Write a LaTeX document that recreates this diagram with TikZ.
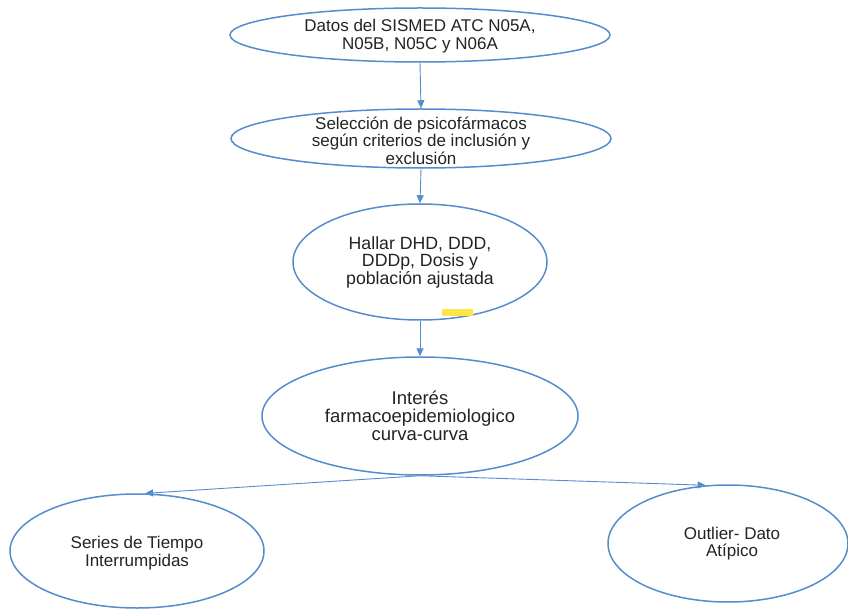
\documentclass[tikz,border=0pt]{standalone}
\usepackage{fontspec}
\setmainfont{Liberation Sans}
\usetikzlibrary{shapes.geometric,arrows.meta}
\definecolor{eblue}{RGB}{86,140,205}
\definecolor{txtc}{RGB}{35,35,35}
\definecolor{hlyellow}{RGB}{255,228,70}
\tikzset{
  ell/.style={ellipse, draw=eblue, line width=1.5pt, inner sep=0pt},
  txt/.style={align=center, text=txtc, inner sep=0pt,
    font=\fontsize{17}{17.5}\selectfont},
  conn/.style={draw=eblue, line width=0.9pt, -{Triangle[length=8pt,width=7pt]}}
}
\begin{document}
\begin{tikzpicture}[x=1pt,y=-1pt]
\useasboundingbox (0,0) rectangle (848,609);
\node[ell, minimum width=380pt, minimum height=54pt] (e1) at (420,35) {};
\node[txt] (t1) at ([yshift=-1pt]e1.center) {Datos del SISMED ATC N05A,\\N05B, N05C y N06A};
\node[ell, minimum width=380pt, minimum height=59pt] (e2) at (421,138.5) {};
\node[txt] (t2) at ([yshift=-2pt]e2.center) {Selección de psicofármacos\\según criterios de inclusión y\\exclusión};
\node[ell, minimum width=254pt, minimum height=116pt] (e3) at (420,262) {};
\node[txt, font=\fontsize{17.7}{17.5}\selectfont] (t3) at (e3.center) {Hallar DHD, DDD,\\DDDp, Dosis y\\población ajustada};
\node[ell, minimum width=316pt, minimum height=118pt] (e4) at (420,416) {};
\node[txt, font=\fontsize{18.5}{18}\selectfont] (t4) at (e4.center) {Interés\\farmacoepidemiologico\\curva-curva};
\node[ell, minimum width=254pt, minimum height=114pt] (e5) at (137,551) {};
\node[txt] (t5) at ([yshift=-2pt]e5.center) {Series de Tiempo\\Interrumpidas};
\node[ell, minimum width=240pt, minimum height=117pt] (e6) at (728,543.5) {};
\node[txt] (t6) at ([xshift=4pt]e6.center) {Outlier- Dato\\Atípico};
\node[fill=hlyellow, minimum width=31pt, minimum height=7pt, inner sep=0pt] (hl) at (457.5,312.5) {};
\path[conn] (e1.south) -- (e2.north);
\path[conn] (e2.south) -- (e3.north);
\path[conn] (e3.south) -- (e4.north);
\path[conn] (e4.south) -- (e5.82);
\path[conn] (e4.south) -- (e6.111);
\end{tikzpicture}
\end{document}
